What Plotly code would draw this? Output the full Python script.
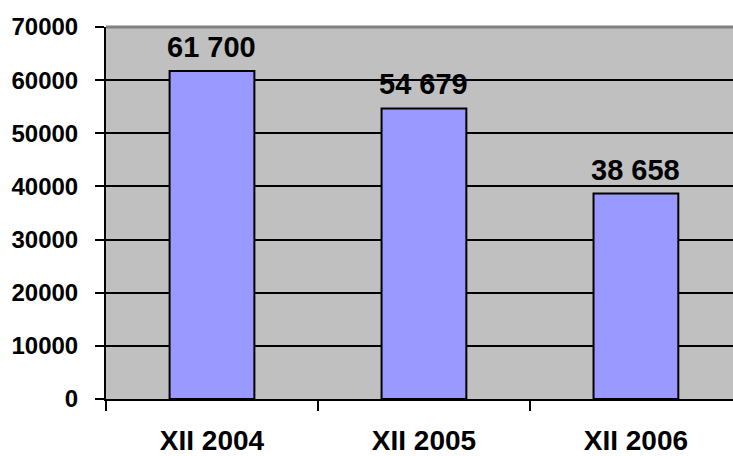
import plotly.graph_objects as go

categories = ["XII 2004", "XII 2005", "XII 2006"]
values = [61700, 54679, 38658]
y_ticks = [0, 10000, 20000, 30000, 40000, 50000, 60000, 70000]

labels = [f"{v:,}".replace(",", " ") for v in values]
FONT = "Arial, Liberation Sans, sans-serif"

fig = go.Figure(go.Bar(
    x=categories, y=values, width=0.4,
    marker=dict(color="#9999FF", line=dict(color="black", width=2)),
))
for c, v, t in zip(categories, values, labels):
    fig.add_annotation(x=c, y=v, text=t, showarrow=False, yanchor="bottom", yshift=6,
                       font=dict(family=FONT, size=29, color="black", weight="bold"))

fig.update_layout(
    width=733, height=456,
    margin=dict(l=106, r=0, t=27, b=57),
    paper_bgcolor="white", plot_bgcolor="#C0C0C0",
    showlegend=False, bargap=0.6,
    font=dict(family=FONT, color="black"),
)
fig.update_xaxes(
    type="category", range=[-0.5, 2.458], automargin=False,
    tickson="boundaries", ticks="outside", ticklen=10, tickwidth=2, tickcolor="black",
    showline=True, linecolor="black", linewidth=2, showgrid=False,
    tickfont=dict(family=FONT, size=28, color="black", weight="bold"),
    ticklabelstandoff=15,
)
fig.update_yaxes(
    range=[0, 70000], tickvals=y_ticks, ticktext=[str(t) for t in y_ticks],
    automargin=False,
    ticks="outside", ticklen=9, tickwidth=2, tickcolor="black",
    showline=True, linecolor="black", linewidth=2,
    showgrid=True, gridcolor="black", gridwidth=2, zeroline=False,
    tickfont=dict(family=FONT, size=24, color="black", weight="bold"),
    ticklabelstandoff=12,
)
fig.add_shape(type="line", xref="paper", yref="paper", x0=0, x1=1, y0=1, y1=1,
              line=dict(color="#808080", width=3), layer="above")

fig.write_html(
    "out.html",
    config={"displayModeBar": False},
    post_script="document.body.style.margin='0';document.body.style.overflow='hidden';",
)
